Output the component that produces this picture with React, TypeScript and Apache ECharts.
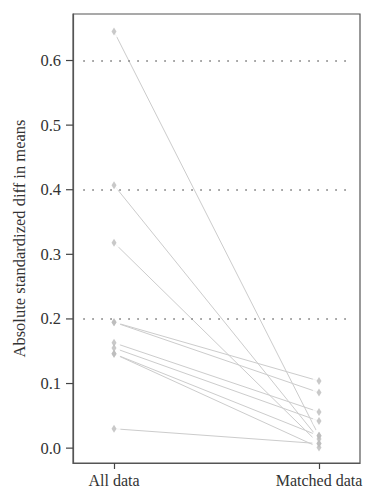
import React, { useEffect, useRef } from "react";
import * as echarts from "echarts";

const categories = ["All data", "Matched data"];
const allData = [0.645, 0.407, 0.318, 0.195, 0.195, 0.163, 0.155, 0.146, 0.146, 0.03];
const matchedData = [0.019, 0.014, 0.007, 0.104, 0.086, 0.056, 0.042, 0.019, 0.001, 0.007];
const yTicks = [0, 0.1, 0.2, 0.3, 0.4, 0.5, 0.6];
const refLines = [0.2, 0.4, 0.6];
const yTitle = "Absolute standardized diff in means";

const FONT = "Liberation Serif";

export default function App() {
  const ref = useRef<HTMLDivElement>(null);
  useEffect(() => {
    if (!ref.current) return;
    const chart = echarts.init(ref.current, undefined, { renderer: "svg" });
    const points: number[][] = [];
    allData.forEach((v, i) => {
      points.push([1, v]);
      points.push([2, matchedData[i]]);
    });
    const lineSeries = allData.map((v, i) => ({
      type: "line",
      data: [
        [1, v],
        [2, matchedData[i]],
      ],
      showSymbol: false,
      symbol: "none",
      silent: true,
      z: 1,
      lineStyle: { color: "#cccccc", width: 1 },
    }));
    chart.setOption({
      animation: false,
      grid: {
        left: 65,
        top: 6,
        right: 9,
        bottom: 29,
        outerBoundsMode: "none",
        containLabel: false,
        show: true,
        borderColor: "#555",
        borderWidth: 1.2,
        backgroundColor: "transparent",
      },
      xAxis: {
        type: "value",
        min: 0.8,
        max: 2.2,
        splitLine: { show: false },
        axisLine: { show: true, onZero: false, lineStyle: { color: "#555", width: 1.2 } },
        axisTick: {
          show: true,
          customValues: [1, 2],
          length: 6,
          lineStyle: { color: "#444", width: 1.2 },
        },
        axisLabel: {
          customValues: [1, 2],
          formatter: (v: number) => categories[Math.round(v) - 1] ?? "",
          fontFamily: FONT,
          fontSize: 16,
          color: "#333",
          margin: 9,
        },
      },
      yAxis: {
        type: "value",
        min: -0.023,
        max: 0.672,
        name: yTitle,
        nameLocation: "middle",
        nameGap: 45,
        nameTextStyle: { fontFamily: FONT, fontSize: 16.5, color: "#333" },
        splitLine: { show: false },
        axisLine: { show: true, onZero: false, lineStyle: { color: "#555", width: 1.2 } },
        axisTick: { show: false },
        axisLabel: {
          customValues: yTicks,
          formatter: (v: number) => v.toFixed(1),
          fontFamily: FONT,
          fontSize: 16.5,
          color: "#333",
          margin: 12,
        },
      },
      series: [
        ...lineSeries,
        {
          type: "scatter",
          data: points,
          symbol: "circle",
          symbolSize: 13,
          itemStyle: { color: "#fff" },
          silent: true,
          z: 2,
        },
        {
          type: "scatter",
          data: points,
          symbol: "diamond",
          symbolSize: [5, 8],
          itemStyle: { color: "#bbbbbb" },
          silent: true,
          z: 3,
          markLine: {
            silent: true,
            symbol: "none",
            label: { show: false },
            lineStyle: { color: "#777", width: 1.6, type: [1.6, 7.4] },
            data: refLines.map((y) => [
              { coord: [0.85, y] },
              { coord: [2.16, y] },
            ]),
          },
        },
      ],
    });
    const tickEls = yTicks.map((t) => {
      const p = chart.convertToPixel({ gridIndex: 0 }, [0.8, t]) as number[];
      return {
        type: "line",
        silent: true,
        shape: { x1: p[0] - 7, y1: p[1], x2: p[0], y2: p[1] },
        style: { stroke: "#444", lineWidth: 1.2 },
      };
    });
    chart.setOption({ graphic: tickEls });
    return () => chart.dispose();
  }, []);
  return <div ref={ref} style={{ width: 361, height: 484 }} />;
}
